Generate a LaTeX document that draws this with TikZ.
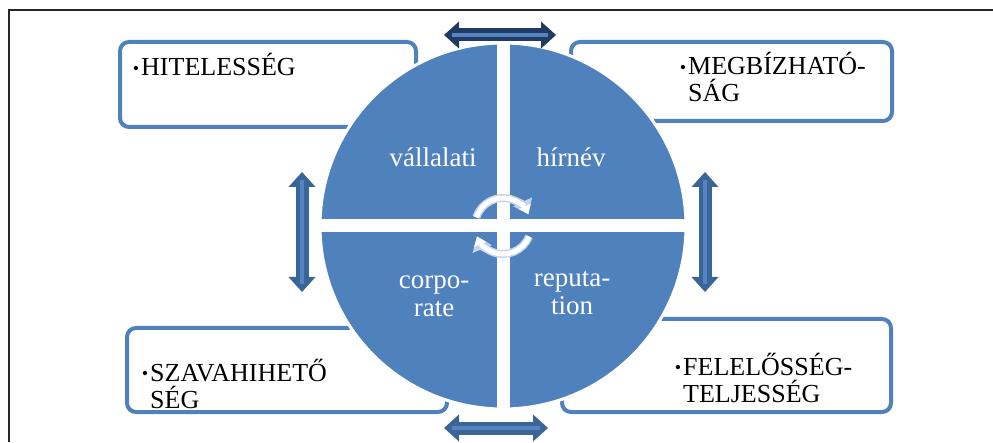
\documentclass[tikz,border=0pt]{standalone}
\usepackage{fontspec}
\setmainfont{Liberation Serif}
\usetikzlibrary{arrows.meta}

\definecolor{kek}{HTML}{4F81BD}
\definecolor{sotetkek}{HTML}{1F3B63}
\definecolor{nyilkek}{HTML}{3A6598}
\definecolor{csikkek}{HTML}{5684C0}
\definecolor{halvany}{HTML}{C6D4EA}

\newcommand{\pontjel}{\llap{\raisebox{1.5pt}{\fontsize{18}{18}\selectfont\textbullet}\hspace{2pt}}}

\begin{document}
\begin{tikzpicture}[x=1pt,y=1pt,
	doboz/.style={rectangle,rounded corners=9pt,draw=kek,line width=4pt,fill=white,inner sep=0pt},
	pont/.style={anchor=base west,align=left,inner sep=0pt,font=\fontsize{26}{27}\selectfont},
	korszoveg/.style={anchor=base,align=center,inner sep=0pt,text=white,font=\fontsize{27}{28}\selectfont},
	nyil/.style={line width=13pt,{Triangle[width=27pt,length=15pt,line width=0pt]}-{Triangle[width=27pt,length=15pt,line width=0pt]}},
	csik/.style={line width=4pt,draw=csikkek},
	forgo/.style={line width=#1,-{Triangle[width=2.6*#1,length=1.7*#1,line width=0pt]}}]

	\useasboundingbox (0,0) rectangle (993,442);
	\draw[line width=2.5pt,black!85] (9,0) -- (9,432) -- (993,432);

	\def\sugar{183pt}

	% the four boxes
	\node[doboz,minimum width=296pt,minimum height=85pt] (hiteles) at (268,357.5) {};
	\node[doboz,minimum width=321pt,minimum height=79pt] (megbiz) at (731.5,360.5) {};
	\node[doboz,minimum width=320pt,minimum height=84pt] (szavahihet) at (287,72) {};
	\node[doboz,minimum width=329pt,minimum height=93pt] (feleloss) at (726.5,76.5) {};

	% base = last line
	\node[pont] (t1) at (141,366) {\pontjel HITELESSÉG};
	\node[pont] (t2) at (688,340) {\pontjel MEGBÍZHATÓ-\\SÁG};
	\node[pont] (t3) at (150,34) {\pontjel SZAVAHIHETŐ\\SÉG};
	\node[pont] (t4) at (683,40) {\pontjel FELELŐSSÉG-\\TELJESSÉG};

	% the circle
	\node[circle,fill=kek,draw=white,line width=3pt,minimum size=2*\sugar,inner sep=0pt] (kor) at (503,216) {};
	\draw[white,line width=13pt] (kor.north) -- (kor.south);
	\draw[white,line width=13pt] (kor.west) -- (kor.east);

	\node[korszoveg] (v) at (433,275) {vállalati};
	\node[korszoveg] (h) at (571,275) {hírnév};
	\node[korszoveg] (c) at (434,125) {corpo-\\rate};
	\node[korszoveg] (r) at (572,127) {reputa-\\tion};

	% turning arrows
	\draw[forgo=8pt,halvany] ([shift={(162:28)}]kor.center) arc[start angle=162,end angle=25,radius=28];
	\draw[forgo=5pt,white] ([shift={(162:28)}]kor.center) arc[start angle=162,end angle=25,radius=28];
	\draw[forgo=8pt,halvany] ([shift={(-22:28)}]kor.center) arc[start angle=-22,end angle=-158,radius=28];
	\draw[forgo=5pt,white] ([shift={(-22:28)}]kor.center) arc[start angle=-22,end angle=-158,radius=28];

	% double arrows
	\coordinate (fb) at (444,407);
	\coordinate (fj) at (556,407);
	\coordinate (ab) at (444,14);
	\coordinate (aj) at (548,14);
	\coordinate (bf) at (302,270);
	\coordinate (ba) at (302,150);
	\coordinate (jf) at (705,270);
	\coordinate (ja) at (705,150);

	\draw[nyil,sotetkek] (fb) -- (fj);
	\draw[csik] ([xshift=8pt]fb) -- ([xshift=-8pt]fj);
	\draw[nyil,nyilkek] (ab) -- (aj);
	\draw[csik] ([xshift=8pt]ab) -- ([xshift=-8pt]aj);
	\draw[nyil,nyilkek] (bf) -- (ba);
	\draw[csik] ([yshift=-8pt]bf) -- ([yshift=8pt]ba);
	\draw[nyil,nyilkek] (jf) -- (ja);
	\draw[csik] ([yshift=-8pt]jf) -- ([yshift=8pt]ja);

\end{tikzpicture}
\end{document}
